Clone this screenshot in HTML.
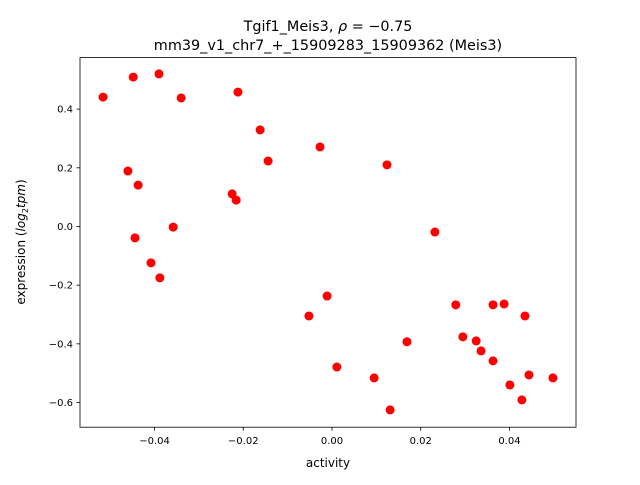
<!DOCTYPE html>
<html><head><meta charset="utf-8"><style>
body{margin:0;background:#fff}
svg text{font-family:"DejaVu Sans","Liberation Sans",sans-serif;fill:#000}
</style></head><body>
<svg id="chart" width="640" height="480" xmlns="http://www.w3.org/2000/svg">
<rect width="640" height="480" fill="#fff"/>
<text x="328" y="31" font-size="14.4" text-anchor="middle">Tgif1_Meis3, <tspan font-style="italic">ρ</tspan> = −0.75</text>
<text x="328" y="50" font-size="14.4" text-anchor="middle">mm39_v1_chr7_+_15909283_15909362 (Meis3)</text>
<g id="points"></g>
<g id="axes"></g>
<text x="328" y="467" font-size="12" text-anchor="middle">activity</text>
<text transform="translate(25,242) rotate(-90)" font-size="12" text-anchor="middle">expression (<tspan font-style="italic">log</tspan><tspan font-size="8" dy="3">2</tspan><tspan font-style="italic" dy="-3">tpm</tspan>)</text>
</svg>
<script>
const xs=[-0.0516,-0.0448,-0.0390,-0.0340,-0.0212,-0.0460,-0.0437,-0.0444,-0.0408,-0.0388,-0.0358,-0.0225,-0.0216,-0.0162,-0.0144,-0.0027,0.0124,0.0232,-0.0011,-0.0052,0.0011,0.0095,0.0131,0.0169,0.0279,0.0295,0.0325,0.0336,0.0363,0.0388,0.0363,0.0401,0.0435,0.0428,0.0444,0.0498];
const ys=[0.441,0.509,0.520,0.438,0.458,0.189,0.141,-0.039,-0.124,-0.175,-0.002,0.111,0.090,0.329,0.223,0.271,0.210,-0.019,-0.237,-0.305,-0.479,-0.516,-0.625,-0.393,-0.267,-0.376,-0.390,-0.424,-0.267,-0.264,-0.458,-0.540,-0.305,-0.591,-0.506,-0.516];
const xTicks=[-0.04,-0.02,0.00,0.02,0.04];
const xTickLabels=["−0.04","−0.02","0.00","0.02","0.04"];
const yTicks=[-0.6,-0.4,-0.2,0.0,0.2,0.4];
const yTickLabels=["−0.6","−0.4","−0.2","0.0","0.2","0.4"];
const L=80,R=576,T=57.6,B=427.2;
const xmin=-0.0568,xmax=0.0550,ymin=-0.684,ymax=0.5755;
const sx=v=>L+(v-xmin)/(xmax-xmin)*(R-L);
const sy=v=>B-(v-ymin)/(ymax-ymin)*(B-T);
const NS="http://www.w3.org/2000/svg";
const pts=document.getElementById('points');
xs.forEach((x,i)=>{
  const c=document.createElementNS(NS,'circle');
  c.setAttribute('cx',sx(x));c.setAttribute('cy',sy(ys[i]));c.setAttribute('r',4.5);c.setAttribute('fill','#ff0000');
  
  
  pts.appendChild(c);
});
const ax=document.getElementById('axes');
const fr=document.createElementNS(NS,'rect');
fr.setAttribute('x',L);fr.setAttribute('y',T);fr.setAttribute('width',R-L);fr.setAttribute('height',B-T);
fr.setAttribute('fill','none');fr.setAttribute('stroke','#000');fr.setAttribute('stroke-width','0.8');


ax.appendChild(fr);
xTicks.forEach((v,i)=>{
  const x=sx(v);
  const l=document.createElementNS(NS,'line');
  l.setAttribute('x1',x);l.setAttribute('x2',x);l.setAttribute('y1',B);l.setAttribute('y2',B+3.5);l.setAttribute('stroke','#000');l.setAttribute('stroke-width','0.8');
  
  
  ax.appendChild(l);
  const t=document.createElementNS(NS,'text');
  t.setAttribute('x',x);t.setAttribute('y',B+17);t.setAttribute('font-size','10');t.setAttribute('text-anchor','middle');
  t.textContent=xTickLabels[i];
  
  
  ax.appendChild(t);
});
yTicks.forEach((v,i)=>{
  const y=sy(v);
  const l=document.createElementNS(NS,'line');
  l.setAttribute('x1',L-3.5);l.setAttribute('x2',L);l.setAttribute('y1',y);l.setAttribute('y2',y);l.setAttribute('stroke','#000');l.setAttribute('stroke-width','0.8');
  
  
  ax.appendChild(l);
  const t=document.createElementNS(NS,'text');
  t.setAttribute('x',L-7);t.setAttribute('y',y+3.5);t.setAttribute('font-size','10');t.setAttribute('text-anchor','end');
  t.textContent=yTickLabels[i];
  
  
  ax.appendChild(t);
});
</script>
</body></html>
